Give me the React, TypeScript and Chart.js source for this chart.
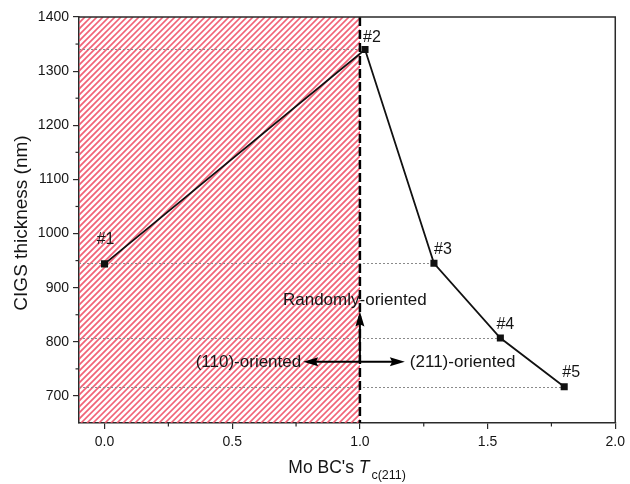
import React, { useEffect, useRef } from "react";
import { Chart, registerables } from "chart.js";

Chart.register(...registerables);

// ---- data ----
const sampleLabels = ["#1", "#2", "#3", "#4", "#5"];
const tcValues = [0, 1.02, 1.29, 1.55, 1.8];
const thicknessValues = [944, 1340, 945, 807, 717];
const xTickValues = [0, 0.5, 1.0, 1.5, 2.0];
const yTickValues = [700, 800, 900, 1000, 1100, 1200, 1300, 1400];
const xMinorTicks = [0.25, 0.75, 1.25, 1.75];
const yMinorTicks = [750, 850, 950, 1050, 1150, 1250, 1350];
const boundaryTc = 1.0;
const arrowLevel = 763;
const arrowTop = 856;
const arrowLeftEnd = 0.778;
const arrowRightEnd = 1.176;
const randomTextPos = { x: 0.98, y: 876 };

const FONT = "'Liberation Sans', Arial, Helvetica, sans-serif";
const TEXT = "#151515";
const AXIS = "#2a2a2a";

// label offsets in px relative to each point (style only)
const hashOffsets = [
  [1, -24],
  [7, -12],
  [9, -14],
  [5, -13],
  [7, -14],
];

function arrowHead(ctx: CanvasRenderingContext2D, x: number, y: number, dx: number, dy: number) {
  const len = 15;
  const hw = 4.5;
  const px = -dy;
  const py = dx;
  ctx.beginPath();
  ctx.moveTo(x, y);
  ctx.lineTo(x - dx * len + px * hw, y - dy * len + py * hw);
  ctx.lineTo(x - dx * len * 0.85, y - dy * len * 0.85);
  ctx.lineTo(x - dx * len - px * hw, y - dy * len - py * hw);
  ctx.closePath();
  ctx.fill();
}

const annotPlugin = {
  id: "annot",
  beforeDatasetsDraw(chart: any) {
    const { ctx, chartArea, scales } = chart;
    const { left, top, bottom } = chartArea;
    const xs = scales.x;
    const ys = scales.y;
    const bx = xs.getPixelForValue(boundaryTc);

    // hatch
    ctx.save();
    ctx.beginPath();
    ctx.rect(left, top, bx - left, bottom - top);
    ctx.clip();
    ctx.strokeStyle = "rgba(238, 72, 95, 0.85)";
    ctx.lineWidth = 1.7;
    const h = bottom - top;
    for (let i = left - h; i < bx + 10; i += 6) {
      ctx.beginPath();
      ctx.moveTo(i, bottom);
      ctx.lineTo(i + h, top);
      ctx.stroke();
    }
    ctx.restore();

    // dotted reference lines
    ctx.save();
    ctx.strokeStyle = "#8a8a8a";
    ctx.lineWidth = 1;
    ctx.setLineDash([2, 2]);
    const lineIdx = [1, 2, 3, 4];
    for (const i of lineIdx) {
      const y = Math.round(ys.getPixelForValue(thicknessValues[i])) + 0.5;
      const x = xs.getPixelForValue(tcValues[i]);
      ctx.beginPath();
      ctx.moveTo(left, y);
      ctx.lineTo(x, y);
      ctx.stroke();
    }
    ctx.restore();

    // vertical dashed boundary
    ctx.save();
    ctx.strokeStyle = "#000";
    ctx.lineWidth = 2.5;
    ctx.setLineDash([9, 4]);
    ctx.beginPath();
    ctx.moveTo(bx, top);
    ctx.lineTo(bx, bottom);
    ctx.stroke();
    ctx.restore();
  },
  afterDatasetsDraw(chart: any) {
    const { ctx, scales } = chart;
    const xs = scales.x;
    const ys = scales.y;
    const bx = xs.getPixelForValue(boundaryTc);
    const ay = ys.getPixelForValue(arrowLevel);
    const at = ys.getPixelForValue(arrowTop);
    const al = xs.getPixelForValue(arrowLeftEnd);
    const ar = xs.getPixelForValue(arrowRightEnd);

    ctx.save();
    ctx.strokeStyle = "#000";
    ctx.fillStyle = "#000";
    ctx.lineWidth = 2;
    ctx.beginPath();
    ctx.moveTo(bx, ay);
    ctx.lineTo(bx, at + 10);
    ctx.stroke();
    arrowHead(ctx, bx, at, 0, -1);
    ctx.beginPath();
    ctx.moveTo(al + 10, ay);
    ctx.lineTo(ar - 10, ay);
    ctx.stroke();
    arrowHead(ctx, al, ay, -1, 0);
    arrowHead(ctx, ar, ay, 1, 0);

    ctx.fillStyle = TEXT;
    ctx.font = `17px ${FONT}`;
    ctx.textBaseline = "middle";
    ctx.textAlign = "right";
    ctx.fillText("(110)-oriented", al - 2, ay);
    ctx.textAlign = "left";
    ctx.fillText("(211)-oriented", ar + 5, ay);
    ctx.textAlign = "center";
    ctx.fillText(
      "Randomly-oriented",
      xs.getPixelForValue(randomTextPos.x),
      ys.getPixelForValue(randomTextPos.y)
    );

    ctx.font = `16px ${FONT}`;
    sampleLabels.forEach((lab, i) => {
      const x = xs.getPixelForValue(tcValues[i]) + hashOffsets[i][0];
      const y = ys.getPixelForValue(thicknessValues[i]) + hashOffsets[i][1];
      ctx.fillText(lab, x, y);
    });
    ctx.restore();
  },
  afterDraw(chart: any) {
    const { ctx, chartArea, scales } = chart;
    const { left, right, top, bottom } = chartArea;
    const xs = scales.x;
    const ys = scales.y;
    ctx.save();
    ctx.strokeStyle = AXIS;
    ctx.lineWidth = 1.5;
    // box top/right
    ctx.beginPath();
    ctx.moveTo(left, top);
    ctx.lineTo(right, top);
    ctx.lineTo(right, bottom);
    ctx.stroke();
    // minor ticks
    ctx.lineWidth = 1.2;
    for (const v of xMinorTicks) {
      const x = xs.getPixelForValue(v);
      ctx.beginPath();
      ctx.moveTo(x, bottom);
      ctx.lineTo(x, bottom + 3.5);
      ctx.stroke();
    }
    for (const v of yMinorTicks) {
      const y = ys.getPixelForValue(v);
      ctx.beginPath();
      ctx.moveTo(left, y);
      ctx.lineTo(left - 3.5, y);
      ctx.stroke();
    }

    // y title
    ctx.fillStyle = TEXT;
    ctx.save();
    ctx.translate(22, (top + bottom) / 2 + 3);
    ctx.rotate(-Math.PI / 2);
    ctx.font = `19px ${FONT}`;
    ctx.textAlign = "center";
    ctx.textBaseline = "middle";
    ctx.fillText("CIGS thickness (nm)", 0, 0);
    ctx.restore();

    // x title with italic T and subscript
    const mainFont = `17.5px ${FONT}`;
    const italFont = `italic 17.5px ${FONT}`;
    const subFont = `12.5px ${FONT}`;
    const p1 = "Mo BC's ";
    const p2 = "T";
    const p3 = "c(211)";
    ctx.font = mainFont;
    const w1 = ctx.measureText(p1).width;
    ctx.font = italFont;
    const w2 = ctx.measureText(p2).width;
    ctx.font = subFont;
    const w3 = ctx.measureText(p3).width;
    const total = w1 + w2 + 2 + w3;
    let sx = (left + right) / 2 - total / 2;
    const base = 473;
    ctx.textAlign = "left";
    ctx.textBaseline = "alphabetic";
    ctx.font = mainFont;
    ctx.fillText(p1, sx, base);
    sx += w1;
    ctx.font = italFont;
    ctx.fillText(p2, sx, base);
    sx += w2 + 2;
    ctx.font = subFont;
    ctx.fillText(p3, sx, base + 6);
    ctx.restore();
  },
};

export default function App() {
  const canvasRef = useRef<HTMLCanvasElement | null>(null);

  useEffect(() => {
    const canvas = canvasRef.current;
    if (!canvas) return;
    const tickFont = { family: FONT, size: 14 };
    const chart = new Chart(canvas, {
      type: "scatter",
      data: {
        datasets: [
          {
            data: tcValues.map((x, i) => ({ x, y: thicknessValues[i] })),
            showLine: true,
            borderColor: "#111",
            backgroundColor: "#111",
            borderWidth: 1.8,
            pointStyle: "rect",
            pointRadius: 5,
            pointBackgroundColor: "#111",
            pointBorderColor: "#111",
            pointBorderWidth: 0,
          },
        ],
      },
      options: {
        responsive: false,
        animation: false,
        events: [],
        layout: { padding: { top: 17, right: 10, left: 0, bottom: 0 } },
        plugins: {
          legend: { display: false },
          tooltip: { enabled: false },
        },
        scales: {
          x: {
            type: "linear",
            min: -0.1,
            max: 2.0,
            afterBuildTicks: (s: any) => {
              s.ticks = xTickValues.map((v) => ({ value: v }));
            },
            afterFit: (s: any) => {
              s.height = 61;
            },
            ticks: {
              font: tickFont,
              color: TEXT,
              padding: 5,
              maxRotation: 0,
              callback: (v: any) => Number(v).toFixed(1),
            },
            grid: {
              drawOnChartArea: false,
              drawTicks: true,
              tickLength: 6,
              color: AXIS,
              lineWidth: 1.2,
            },
            border: { display: true, color: AXIS, width: 1.5 },
          },
          y: {
            type: "linear",
            min: 650,
            max: 1400,
            afterBuildTicks: (s: any) => {
              s.ticks = yTickValues.map((v) => ({ value: v }));
            },
            afterFit: (s: any) => {
              s.width = 79;
            },
            ticks: {
              font: tickFont,
              color: TEXT,
              padding: 4,
              callback: (v: any) => String(v),
            },
            grid: {
              drawOnChartArea: false,
              drawTicks: true,
              tickLength: 6,
              color: AXIS,
              lineWidth: 1.2,
            },
            border: { display: true, color: AXIS, width: 1.5 },
          },
        },
      },
      plugins: [annotPlugin],
    } as any);
    return () => chart.destroy();
  }, []);

  return (
    <div
      style={{
        position: "fixed",
        left: 0,
        top: 0,
        width: 630,
        height: 484,
        background: "#fff",
      }}
    >
      <canvas ref={canvasRef} width={630} height={484} style={{ display: "block" }} />
    </div>
  );
}
